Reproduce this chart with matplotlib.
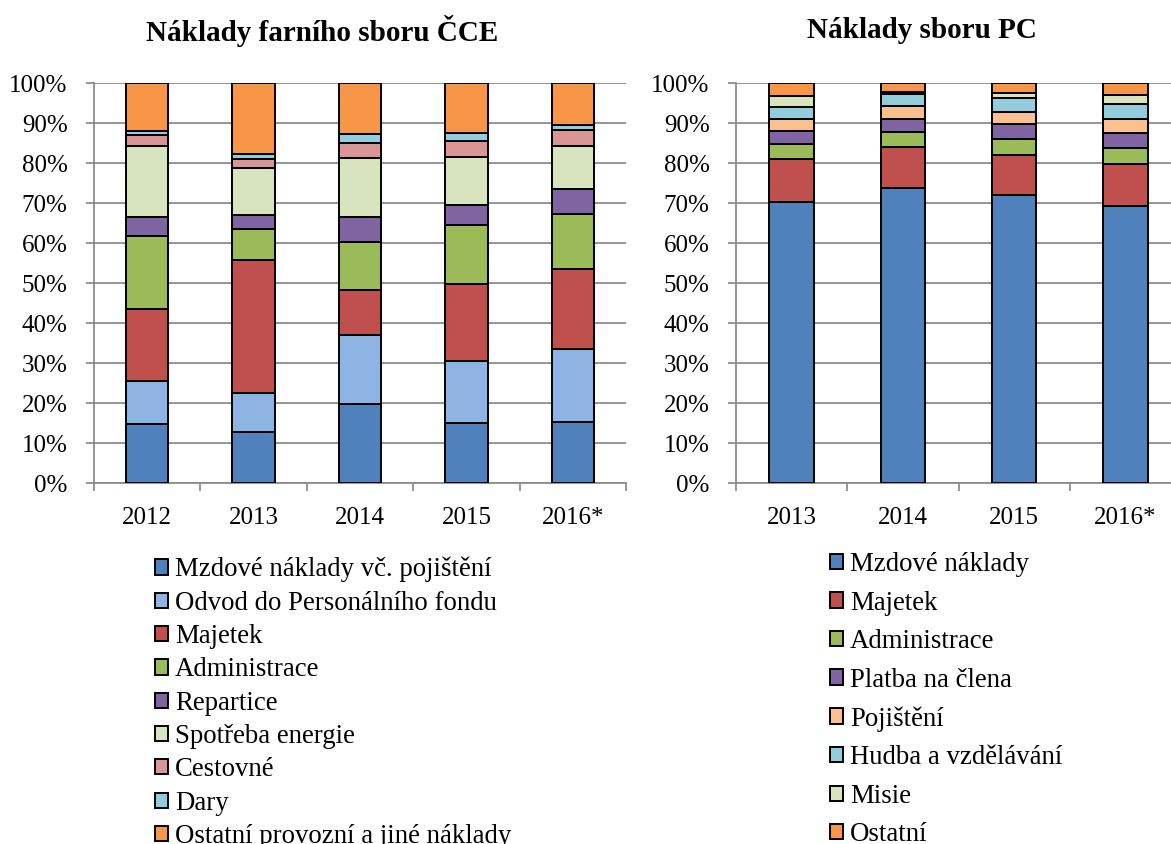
import matplotlib.pyplot as plt
import numpy as np

# --- data (percent of yearly costs) ---
years_cce = ["2012", "2013", "2014", "2015", "2016*"]
cats_cce = ["Mzdové náklady vč. pojištění", "Odvod do Personálního fondu", "Majetek",
            "Administrace", "Repartice", "Spotřeba energie", "Cestovné", "Dary",
            "Ostatní provozní a jiné náklady"]
mzdove_cce = [14.8, 12.7, 19.8, 15.0, 15.3]
odvod = [10.6, 9.8, 17.1, 15.6, 18.2]
majetek_cce = [18.2, 33.2, 11.4, 19.2, 19.9]
admin_cce = [18.2, 7.8, 12.0, 14.8, 13.8]
repartice = [4.7, 3.5, 6.2, 5.0, 6.2]
spotreba = [17.7, 11.7, 14.8, 11.8, 10.8]
cestovne = [2.7, 2.3, 3.8, 4.0, 4.1]
dary = [1.2, 1.3, 2.2, 2.1, 1.3]
ostatni_cce = [11.9, 17.7, 12.7, 12.5, 10.4]

years_pc = ["2013", "2014", "2015", "2016*"]
cats_pc = ["Mzdové náklady", "Majetek", "Administrace", "Platba na člena",
           "Pojištění", "Hudba a vzdělávání", "Misie", "Ostatní"]
mzdove_pc = [70.2, 73.8, 72.1, 69.2]
majetek_pc = [10.8, 10.1, 10.0, 10.6]
admin_pc = [3.8, 3.9, 4.0, 4.0]
platba = [3.2, 3.2, 3.6, 3.7]
pojisteni = [3.0, 3.3, 3.1, 3.4]
hudba = [3.0, 2.9, 3.5, 3.8]
misie = [2.8, 0.6, 1.2, 2.4]
ostatni_pc = [3.2, 2.2, 2.5, 2.9]

colors_cce = ["#4F81BD", "#8EB4E3", "#C0504D", "#9BBB59", "#8064A2",
              "#D7E4BD", "#D99694", "#93CDDD", "#F79646"]
colors_pc = ["#4F81BD", "#C0504D", "#9BBB59", "#8064A2",
             "#FAC090", "#93CDDD", "#D7E4BD", "#F79646"]

plt.rcParams.update({
    "font.family": ["Liberation Serif", "DejaVu Serif"],
    "font.size": 18,
})

fig = plt.figure(figsize=(11.71, 8.44), dpi=100)
W, H = 1171, 844
ax1 = fig.add_axes([94 / W, (H - 483) / H, 532 / W, 400 / H])
ax2 = fig.add_axes([736 / W, (H - 483) / H, 445 / W, 400 / H])


def stacked(ax, years, series, colors, labels):
    x = np.arange(len(years))
    bottom = np.zeros(len(years))
    handles = []
    for vals, c, lab in zip(series, colors, labels):
        b = ax.bar(x, vals, bottom=bottom, width=0.4, color=c,
                   edgecolor="black", linewidth=1.4, label=lab, zorder=3)
        handles.append(b)
        bottom += np.array(vals)
    ax.set_xlim(-0.5, len(years) - 0.5)
    ax.set_ylim(0, 100)
    ax.set_yticks(np.arange(0, 101, 10))
    ax.set_yticklabels([f"{v}%" for v in range(0, 101, 10)])
    ax.set_xticks(x)
    ax.set_xticklabels(years)
    ax.set_xticks(np.arange(-0.5, len(years), 1.0), minor=True)
    ax.grid(axis="y", color="#8C8C8C", linewidth=1.3, zorder=0)
    for s in ["top", "right"]:
        ax.spines[s].set_visible(False)
    for s in ["left", "bottom"]:
        ax.spines[s].set_color("#8C8C8C")
        ax.spines[s].set_linewidth(1.3)
    ax.tick_params(axis="y", length=6, width=1.3, color="#8C8C8C", pad=13)
    ax.tick_params(axis="x", which="major", length=0, pad=17)
    ax.tick_params(axis="x", which="minor", length=6, width=1.3, color="#8C8C8C")
    return handles


series_cce = [mzdove_cce, odvod, majetek_cce, admin_cce, repartice,
              spotreba, cestovne, dary, ostatni_cce]
series_pc = [mzdove_pc, majetek_pc, admin_pc, platba, pojisteni,
             hudba, misie, ostatni_pc]

h1 = stacked(ax1, years_cce, series_cce, colors_cce, cats_cce)
h2 = stacked(ax2, years_pc, series_pc, colors_pc, cats_pc)

fig.text(322 / W, 1 - 31 / H, "Náklady farního sboru ČCE", ha="center",
         va="center", fontsize=21, fontweight="bold")
fig.text(922 / W, 1 - 31 / H, "Náklady sboru PC", ha="center",
         va="center", fontsize=21, fontweight="bold")

leg_kw = dict(frameon=False, borderpad=0, handlelength=0.5, handleheight=0.5,
              handletextpad=0.25, borderaxespad=0, fontsize=19.3)
fig.legend(h1, cats_cce, loc="upper left", bbox_to_anchor=(155 / W, 1 - 557 / H),
           labelspacing=0.31, **leg_kw)
fig.legend(h2, cats_pc, loc="upper left", bbox_to_anchor=(830 / W, 1 - 552 / H),
           labelspacing=0.505, **leg_kw)

fig.savefig("out.png", dpi=100)
plt.close(fig)
